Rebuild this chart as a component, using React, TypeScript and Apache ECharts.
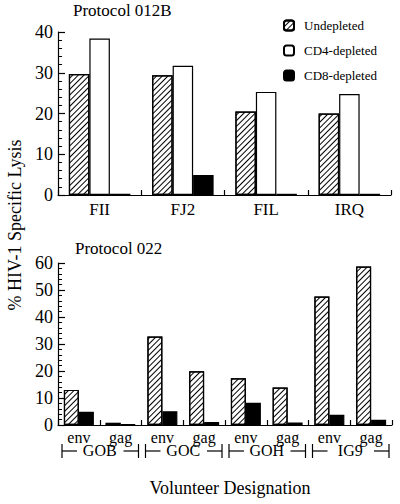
import React, { useEffect, useRef } from "react";
import * as echarts from "echarts";

const FONT = "'Liberation Serif', 'Times New Roman', serif";

// Protocol 012B
const volunteersTop = ["FII", "FJ2", "FIL", "IRQ"];
const undepletedTop = [29.7, 29.4, 20.5, 20.0];
const cd4Top = [38.4, 31.7, 25.3, 24.8];
const cd8Top = [0.3, 4.9, 0.3, 0.3];

// Protocol 022
const epitopes = ["env", "gag", "env", "gag", "env", "gag", "env", "gag"];
const volunteersBottom = ["GOB", "GOC", "GOH", "IG9"];
const undepletedBottom = [13.0, 0.8, 32.8, 19.9, 17.3, 13.9, 47.6, 58.7];
const cd8Bottom = [4.9, 0.3, 5.1, 1.1, 8.2, 0.9, 3.8, 1.9];

const yTicksTop = { min: 0, max: 40, interval: 10 };
const yTicksBottom = { min: 0, max: 60, interval: 10 };

export default function App() {
  const ref = useRef<HTMLDivElement>(null);
  useEffect(() => {
    if (!ref.current) return;
    const chart = echarts.init(ref.current, null, { renderer: "svg" });
    const black = "#000";
    const hatch = {
      symbol: "rect",
      symbolSize: 1,
      dashArrayX: [1, 0],
      dashArrayY: [1, 3],
      rotation: -Math.PI / 4,
      color: "#000",
    };
    const undepStyle = { color: "#fff", borderColor: black, borderWidth: 1.2, decal: hatch };
    const cd4Style = { color: "#fff", borderColor: black, borderWidth: 1.2 };
    const cd8Style = { color: "#000", borderColor: black, borderWidth: 1.2 };
    const axisLine = { show: true, lineStyle: { color: black, width: 1.2 } };
    const xTick = { show: true, inside: true, length: 5, lineStyle: { color: black, width: 1.2 } };
    const yAxisCommon = (gridIndex: number, t: { min: number; max: number; interval: number }) => ({
      type: "value",
      gridIndex,
      min: t.min,
      max: t.max,
      interval: t.interval,
      axisLine,
      axisTick: { show: true, inside: true, length: 7, lineStyle: { color: black, width: 1.2 } },
      minorTick: { show: true, splitNumber: 5, length: 4, lineStyle: { color: black, width: 1 } },
      splitLine: { show: false },
      axisLabel: { color: black, fontFamily: FONT, fontSize: 18, margin: 5 },
    });
    const names = ["Undepleted", "CD4-depleted", "CD8-depleted"];

    chart.setOption({
      animation: false,
      backgroundColor: "#fff",
      textStyle: { fontFamily: FONT, color: black },
      title: [
        {
          text: "Protocol 012B",
          left: 73,
          top: 2,
          padding: 0,
          textStyle: { fontFamily: FONT, fontSize: 17, fontWeight: "normal", color: black },
        },
        {
          text: "Protocol 022",
          left: 75,
          top: 240,
          padding: 0,
          textStyle: { fontFamily: FONT, fontSize: 17, fontWeight: "normal", color: black },
        },
      ],
      legend: {
        data: names,
        orient: "vertical",
        left: 283,
        top: 19,
        padding: 0,
        itemWidth: 10,
        itemHeight: 10,
        itemGap: 12,
        textStyle: { fontFamily: FONT, fontSize: 13, color: black, padding: [0, 0, 0, 5] },
      },
      grid: [
        { left: 58, top: 32, width: 333, height: 163 },
        { left: 58, top: 263, width: 334, height: 162 },
      ],
      xAxis: [
        {
          type: "category",
          gridIndex: 0,
          data: volunteersTop,
          axisLine,
          axisTick: xTick,
          axisLabel: { color: black, fontFamily: FONT, fontSize: 17, margin: 6, interval: 0 },
        },
        {
          type: "category",
          gridIndex: 1,
          data: epitopes,
          axisLine,
          axisTick: xTick,
          axisLabel: { color: black, fontFamily: FONT, fontSize: 16, margin: 4, interval: 0 },
        },
        {
          type: "category",
          gridIndex: 1,
          position: "bottom",
          offset: 17,
          data: volunteersBottom,
          axisLine: { show: false },
          axisTick: { show: false },
          axisLabel: { color: black, fontFamily: FONT, fontSize: 16, margin: 0, interval: 0 },
        },
      ],
      yAxis: [yAxisCommon(0, yTicksTop), yAxisCommon(1, yTicksBottom)],
      series: [
        {
          name: names[0],
          type: "bar",
          xAxisIndex: 0,
          yAxisIndex: 0,
          data: undepletedTop,
          barWidth: 20.5,
          barGap: "0%",
          itemStyle: undepStyle,
        },
        {
          name: names[1],
          type: "bar",
          xAxisIndex: 0,
          yAxisIndex: 0,
          data: cd4Top,
          barWidth: 20.5,
          barGap: "0%",
          itemStyle: cd4Style,
        },
        {
          name: names[2],
          type: "bar",
          xAxisIndex: 0,
          yAxisIndex: 0,
          data: cd8Top,
          barWidth: 20.5,
          barGap: "0%",
          itemStyle: cd8Style,
        },
        {
          name: names[0],
          type: "bar",
          xAxisIndex: 1,
          yAxisIndex: 1,
          data: undepletedBottom,
          barWidth: 15,
          barGap: "0%",
          itemStyle: undepStyle,
        },
        {
          name: names[2],
          type: "bar",
          xAxisIndex: 1,
          yAxisIndex: 1,
          data: cd8Bottom,
          barWidth: 15,
          barGap: "0%",
          itemStyle: cd8Style,
        },
      ],
    });

    // group brackets "|— GOB —|" built from the epitope axis' category positions
    const c0 = chart.convertToPixel({ xAxisIndex: 1 }, 0) as number;
    const c1 = chart.convertToPixel({ xAxisIndex: 1 }, 1) as number;
    const step = c1 - c0;
    const yMid = 451;
    const half = 7;
    const dash = 15;
    const lineStyle = { stroke: black, lineWidth: 1.2 };
    const brackets: any[] = [];
    volunteersBottom.forEach((_, g) => {
      const left = (chart.convertToPixel({ xAxisIndex: 1 }, g * 2) as number) - step / 2 + 4;
      const right = (chart.convertToPixel({ xAxisIndex: 1 }, g * 2 + 1) as number) + step / 2 - 3;
      brackets.push(
        { type: "line", shape: { x1: left, y1: yMid - half, x2: left, y2: yMid + half }, style: lineStyle },
        { type: "line", shape: { x1: left, y1: yMid, x2: left + dash, y2: yMid }, style: lineStyle },
        { type: "line", shape: { x1: right - dash, y1: yMid, x2: right, y2: yMid }, style: lineStyle },
        { type: "line", shape: { x1: right, y1: yMid - half, x2: right, y2: yMid + half }, style: lineStyle }
      );
    });

    chart.setOption({
      graphic: [
        {
          type: "text",
          x: 15,
          y: 225,
          rotation: Math.PI / 2,
          style: {
            text: "% HIV-1 Specific Lysis",
            fontFamily: FONT,
            fontSize: 18,
            fill: black,
            textAlign: "center",
            textVerticalAlign: "middle",
          },
        },
        {
          type: "text",
          x: 230,
          y: 488,
          style: {
            text: "Volunteer Designation",
            fontFamily: FONT,
            fontSize: 18,
            fill: black,
            textAlign: "center",
            textVerticalAlign: "middle",
          },
        },
        ...brackets,
      ],
    });
    return () => chart.dispose();
  }, []);
  return (
    <div
      ref={ref}
      style={{ position: "fixed", left: 0, top: 0, width: 400, height: 504 }}
    />
  );
}
